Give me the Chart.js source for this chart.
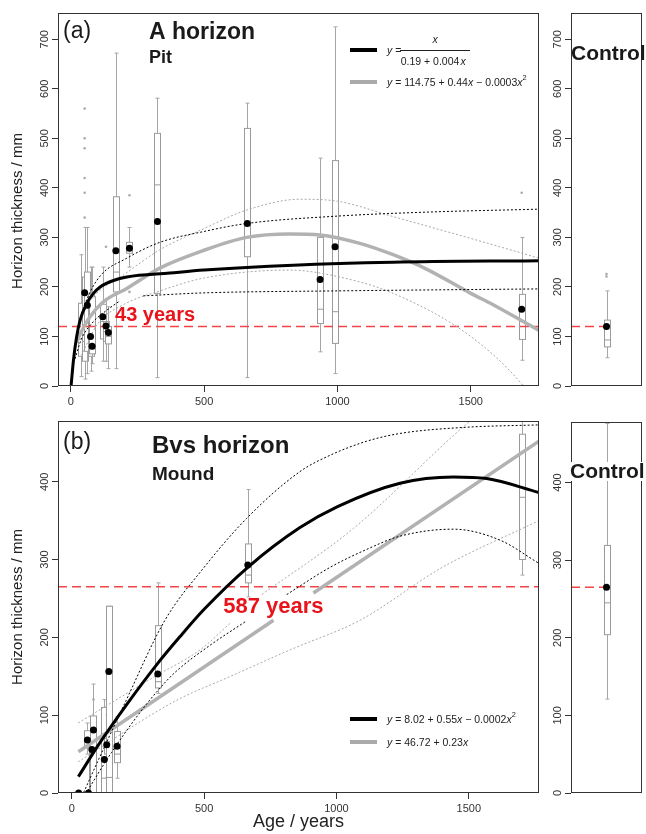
<!DOCTYPE html>
<html>
<head>
<meta charset="utf-8">
<script src="https://cdn.jsdelivr.net/npm/chart.js@4.4.0/dist/chart.umd.min.js"></script>
<style>
  body { margin: 0; background: #fff; width: 646px; height: 834px; position: relative; overflow: hidden; }
  .pane { position: absolute; }
</style>
</head>
<body>
<div class="pane" style="left:0;top:0;width:545px;height:410px"><canvas id="aMain"></canvas></div>
<div class="pane" style="left:540px;top:0;width:106px;height:410px"><canvas id="aCtrl"></canvas></div>
<div class="pane" style="left:0;top:405px;width:545px;height:429px"><canvas id="bMain"></canvas></div>
<div class="pane" style="left:540px;top:405px;width:106px;height:429px"><canvas id="bCtrl"></canvas></div>
<script>
// tick labels
const xTicks  = [0, 500, 1000, 1500];
const yTicksA = [0, 100, 200, 300, 400, 500, 600, 700];
const yTicksB = [0, 100, 200, 300, 400];

// ---------- panel (a): A horizon, pit ----------
const boxAgeA = [37, 52, 62, 74, 80, 120, 132, 141, 169, 220, 325, 662, 935, 991, 1691];
const boxLoA  = [19, 14, 25, 30, 45, 50, 50, 35, 35, 240, 17, 17, 69, 25, 52];
const boxQ1A  = [60, 50, 70, 60, 65, 95, 90, 85, 190, 268, 187, 261, 126, 86, 94];
const boxMedA = [95, 90, 120, 85, 75, 130, 110, 100, 230, 280, 406, 330, 155, 150, 130];
const boxQ3A  = [167, 220, 230, 185, 180, 165, 130, 120, 382, 290, 510, 520, 300, 455, 185];
const boxHiA  = [265, 320, 320, 240, 240, 240, 175, 160, 672, 320, 581, 571, 460, 725, 300];
const meanA   = [null, 188, 163, 100, 80, 140, 121, 108, 273, 278, 332, 328, 215, 281, 155];
const outAgeA = [52, 52, 52, 52, 52, 52, 132, 220, 220, 1691];
const outValA = [340, 390, 420, 480, 500, 560, 281, 190, 385, 390];

// fitted curves (null = hidden under the label)
const ageBlkA   = [1, 10, 22, 35, 60, 85, 110, 160, 210, 372, 500, 834, 1209, 1756];
const blkA      = [0, 52, 100, 133, 167, 187, 200, 213, 220, 228, 234, 244, 250, 253];
const ageBlkHiA = [5, 15, 30, 45, 60, 110, 210, 334, 500, 659, 1000, 1334, 1756];
const blkHiA    = [20, 70, 120, 150, 175, 222, 258, 290, 312, 328, 343, 351, 357];
const ageBlkLoA = [16, 40, 85, 135, 179, 225, 272, 500, 1000, 1756];
const blkLoA    = [55, 95, 130, 153, 170, null, 182, 188, 192, 196];
const ageGryA   = [22, 35, 72, 122, 210, 334, 500, 659, 821, 934, 1084, 1209, 1334, 1500, 1584, 1756];
const gryA      = [88, 105, 140, 170, 197, 238, 274, 300, 307, 305, 288, 265, 236, 187, 164, 112];
const ageGryHiA = [20, 50, 85, 200, 334, 500, 659, 859, 1000, 1209, 1584, 1756];
const gryHiA    = [100, 150, 180, 225, 275, 318, 355, 377, 373, 342, 285, 258];
const ageGryLoA = [40, 100, 200, 334, 500, 821, 1000, 1209, 1500, 1690, 1730];
const gryLoA    = [62, 125, 165, 192, 218, 234, 221, 187, 100, 5, -25];

const ctrlA = { lo: 57, q1: 79, med: 93, q3: 133, hi: 192, mean: 120 };
const ctrlOutA = [221, 226];
const yearsA = 43;

// ---------- panel (b): Bvs horizon, mound ----------
const boxAgeB = [26, 59, 63, 76, 82, 123, 132, 140, 171, 325, 665, 1700];
const boxLoB  = [0, 50, 0, 0, 0, 0, 20, 0, 19, 128, 252, 280];
const boxQ1B  = [0, 58, 0, 0, 0, 0, 50, 0, 39, 135, 270, 300];
const boxMedB = [0, 65, 0, 50, 55, 19, 60, 20, 50, 143, 280, 380];
const boxQ3B  = [0, 80, 0, 60, 99, 110, 70, 240, 79, 215, 320, 461];
const boxHiB  = [0, 90, 0, 70, 140, 120, 100, 240, 98, 270, 390, 500];
const meanB   = [0, 68, 0, 56, 81, 43, 62, 156, 60, 153, 293, null];
const outAgeB = [82];
const outValB = [120];

const ageBlkB   = [25, 107, 208, 321, 409, 500, 665, 862, 1004, 1240, 1441, 1567, 1765];
const blkB      = [21, 65, 114, 165, 201, 236, 290, 341, 368, 398, 406, 404, 386];
const ageBlkHiB = [20, 44, 100, 200, 352, 500, 661, 862, 976, 1114, 1240, 1492, 1765];
const blkHiB    = [-18, 0, 42, 115, 222, 290, 353, 413, 434, 452, 462, 470, 473];
const ageBlkLoB = [30, 55, 150, 250, 321, 390, 523, 655, 730, 812, 976, 1114, 1240, 1441, 1617, 1765];
const blkLoB    = [-15, 0, 52, 100, 130, 155, 190, 220, null, 255, 290, 313, 330, 339, 325, 295];
const ageGryB   = [25, 762, 840, 913, 1765];
const gryB      = [53, 222, null, 257, 452];
const ageGryHiB = [24, 315, 485, 598, 660, 718, 1064, 1505, 1560];
const gryHiB    = [90, 150, 184, 218, null, 255, 340, 478, 492];
const ageGryLoB = [24, 390, 600, 825, 1089, 1400, 1765];
const gryLoB    = [40, 118, 150, 184, 222, 290, 350];

const ctrlB = { lo: 121, q1: 204, med: 245, q3: 319, hi: 476, mean: 265 };
const yearsB = 587;

// ---------- helpers ----------
const FONT = '"Liberation Sans", Arial, sans-serif';
const pts = (xs, ys) => xs.map((x, i) => ({ x: x, y: ys[i] }));

function curve(xs, ys, color, width, dash) {
  return {
    type: 'line', data: pts(xs, ys), borderColor: color, borderWidth: width,
    borderDash: dash || [], pointRadius: 0, fill: false,
    cubicInterpolationMode: 'monotone', spanGaps: false
  };
}
function dots(xs, ys, color, r) {
  return { type: 'scatter', data: pts(xs, ys), backgroundColor: color, borderWidth: 0, pointRadius: r };
}

function boxPlugin(b) {
  return {
    id: 'boxes',
    beforeDatasetsDraw(chart) {
      const { ctx, chartArea: a, scales: { x, y } } = chart;
      ctx.save();
      ctx.beginPath(); ctx.rect(a.left, a.top, a.width, a.height); ctx.clip();
      ctx.lineWidth = 1;
      b.age.forEach((age, i) => {
        const px = Math.round(x.getPixelForValue(age)) + 0.5;
        const lo = y.getPixelForValue(b.lo[i]), q1 = y.getPixelForValue(b.q1[i]);
        const md = y.getPixelForValue(b.med[i]), q3 = y.getPixelForValue(b.q3[i]);
        const hi = y.getPixelForValue(b.hi[i]);
        ctx.strokeStyle = '#a6a6a6';
        ctx.beginPath();
        ctx.moveTo(px, lo); ctx.lineTo(px, q1);
        ctx.moveTo(px, q3); ctx.lineTo(px, hi);
        ctx.moveTo(px - 2, lo); ctx.lineTo(px + 2, lo);
        ctx.moveTo(px - 2, hi); ctx.lineTo(px + 2, hi);
        ctx.stroke();
        ctx.fillStyle = '#fff';
        ctx.fillRect(px - 3, q3, 6, q1 - q3);
        ctx.strokeStyle = '#9a9a9a';
        ctx.strokeRect(px - 3, q3, 6, q1 - q3);
        ctx.beginPath(); ctx.moveTo(px - 3, md); ctx.lineTo(px + 3, md); ctx.stroke();
      });
      ctx.restore();
    }
  };
}

const frame = {
  id: 'frame',
  afterDatasetsDraw(chart) {
    const { ctx, chartArea: a } = chart;
    ctx.save();
    ctx.strokeStyle = '#333'; ctx.lineWidth = 1;
    ctx.strokeRect(Math.round(a.left) + 0.5, Math.round(a.top) + 0.5, Math.round(a.width) - 1, Math.round(a.height) - 1);
    ctx.restore();
  }
};

// R-style tick labels on the y axis, written upwards
const yLabels = {
  id: 'yLabels',
  afterDraw(chart) {
    const { ctx, chartArea: a, scales: { y } } = chart;
    ctx.save();
    ctx.font = '11px ' + FONT; ctx.fillStyle = '#333';
    ctx.textAlign = 'center'; ctx.textBaseline = 'middle';
    y.ticks.forEach(t => {
      ctx.save();
      ctx.translate(a.left - 14.5, y.getPixelForValue(t.value));
      ctx.rotate(-Math.PI / 2);
      ctx.fillText(String(t.value), 0, 1);
      ctx.restore();
    });
    ctx.restore();
  }
};

// text with italic / superscript pieces
function rich(ctx, x, y, parts, size) {
  let cx = x;
  parts.forEach(([t, s]) => {
    const fs = s === 's' ? size * 0.7 : size;
    ctx.font = (s === 'i' ? 'italic ' : '') + fs + 'px ' + FONT;
    ctx.fillText(t, cx, s === 's' ? y - size * 0.45 : y);
    cx += ctx.measureText(t).width;
  });
  return cx;
}
function swatch(ctx, x, y, color) {
  ctx.strokeStyle = color; ctx.lineWidth = 4; ctx.setLineDash([]);
  ctx.beginPath(); ctx.moveTo(x, y); ctx.lineTo(x + 27, y); ctx.stroke();
}
function bold(ctx, text, x, y, size, color) {
  ctx.font = 'bold ' + size + 'px ' + FONT; ctx.fillStyle = color || '#1a1a1a';
  ctx.fillText(text, x, y);
}
const setTicks = vals => scale => { scale.ticks = vals.map(v => ({ value: v })); };

function scalesFor(opt) {
  return {
    x: {
      type: 'linear', min: opt.xMin, max: opt.xMax, display: opt.xShow,
      afterFit: s => { s.height = opt.xHeight; },
      afterBuildTicks: setTicks(xTicks),
      ticks: { color: '#333', font: { size: 11, family: FONT }, padding: 3, maxRotation: 0, autoSkip: false,
               callback: v => String(v) },
      grid: { drawOnChartArea: false, drawTicks: true, tickLength: 6, color: '#333' },
      border: { display: false },
      title: { display: !!opt.xTitle, text: opt.xTitle, color: '#222', font: { size: 18, family: FONT }, padding: { top: 0, bottom: 1 } }
    },
    y: {
      type: 'linear', min: 0, max: opt.yMax,
      afterFit: s => { s.width = opt.yWidth; },
      afterBuildTicks: setTicks(opt.yTicks),
      ticks: { display: false },
      grid: { drawOnChartArea: false, drawTicks: true, tickLength: 6, color: '#333' },
      border: { display: false },
      title: { display: !!opt.yTitle, text: opt.yTitle, color: '#222', font: { size: 15, family: FONT }, padding: { top: 9, bottom: 0 } }
    }
  };
}

function build(id, datasets, plugins, opt) {
  return new Chart(document.getElementById(id), {
    type: 'line',
    data: { datasets: datasets },
    options: {
      responsive: true, maintainAspectRatio: false, animation: false, events: [],
      layout: { padding: opt.pad },
      plugins: { legend: { display: false }, tooltip: { enabled: false } },
      scales: scalesFor(opt)
    },
    plugins: plugins
  });
}

const BLACK = '#000', GREY = '#b2b2b2', THIN_GREY = '#a8a8a8', RED = '#f24545', RED_TXT = '#e8141c';
const X_A = [-48, 1756], X_B = [-52, 1765];

// ---------- panel (a) main ----------
build('aMain', [
  dots(boxAgeA, meanA, '#000', 3.5),
  dots(outAgeA, outValA, '#aaa', 1.3),
  curve(ageBlkA, blkA, BLACK, 3),
  curve(ageBlkHiA, blkHiA, BLACK, 1, [2, 2]),
  curve(ageBlkLoA, blkLoA, BLACK, 1, [2, 2]),
  curve(ageGryA, gryA, GREY, 3.5),
  curve(ageGryHiA, gryHiA, THIN_GREY, 1, [2, 2]),
  curve(ageGryLoA, gryLoA, THIN_GREY, 1, [2, 2]),
  curve(X_A, [ctrlA.mean, ctrlA.mean], RED, 1.5, [9, 5])
], [
  boxPlugin({ age: boxAgeA, lo: boxLoA, q1: boxQ1A, med: boxMedA, q3: boxQ3A, hi: boxHiA }),
  frame, yLabels,
  {
    id: 'notesA',
    afterDraw(chart) {
      const { ctx, scales: { x, y } } = chart;
      ctx.save();
      // y title sits a little low in this panel
      ctx.save();
      ctx.translate(18, 211); ctx.rotate(-Math.PI / 2);
      ctx.font = '15px ' + FONT; ctx.fillStyle = '#222';
      ctx.textAlign = 'center'; ctx.textBaseline = 'middle';
      ctx.fillText('Horizon thickness / mm', 0, 0);
      ctx.restore();
      ctx.textBaseline = 'alphabetic'; ctx.textAlign = 'left';
      ctx.font = '23px ' + FONT; ctx.fillStyle = '#1a1a1a';
      ctx.fillText('(a)', 63, 38);
      bold(ctx, 'A horizon', 149, 39, 23);
      bold(ctx, 'Pit', 149, 63, 18);
      bold(ctx, yearsA + ' years', x.getPixelForValue(166), y.getPixelForValue(131), 20, RED_TXT);
      // legend
      swatch(ctx, 350, 50, '#000');
      swatch(ctx, 350, 82, '#aaa');
      ctx.fillStyle = '#222'; ctx.textBaseline = 'middle';
      rich(ctx, 387, 51, [['y', 'i'], [' =', '']], 10.5);
      ctx.fillRect(400, 50, 70, 1);
      ctx.textAlign = 'center';
      ctx.font = 'italic 10.5px ' + FONT; ctx.fillText('x', 435, 40);
      ctx.font = '10.5px ' + FONT; ctx.fillText('0.19 + 0.004', 430, 62);
      ctx.font = 'italic 10.5px ' + FONT; ctx.fillText('x', 463, 62);
      ctx.textAlign = 'left';
      rich(ctx, 387, 83, [['y', 'i'], [' = 114.75 + 0.44', ''], ['x', 'i'], [' \u2212 0.0003', ''], ['x', 'i'], ['2', 's']], 10.5);
      ctx.restore();
    }
  }
], { xMin: X_A[0], xMax: X_A[1], xShow: true, xHeight: 24, yMax: 753, yWidth: 58, yTicks: yTicksA,
     pad: { top: 13, right: 6, left: 0, bottom: 0 } });

// ---------- panel (a) control ----------
build('aCtrl', [
  dots([1], [ctrlA.mean], '#000', 3.5),
  dots([1, 1], ctrlOutA, '#aaa', 1.3),
  curve([0, 1], [ctrlA.mean, ctrlA.mean], RED, 1.5, [9, 5])
], [
  boxPlugin({ age: [1], lo: [ctrlA.lo], q1: [ctrlA.q1], med: [ctrlA.med], q3: [ctrlA.q3], hi: [ctrlA.hi] }),
  frame, yLabels,
  { id: 'ctrlTextA', afterDraw(chart) { const ctx = chart.ctx; ctx.save(); bold(ctx, 'Control', 31, 60, 21); ctx.restore(); } }
], { xMin: 0, xMax: 2, xShow: false, xHeight: 0, yMax: 753, yWidth: 31, yTicks: yTicksA,
     pad: { top: 13, right: 1, left: 0, bottom: 24 } });

// ---------- panel (b) main ----------
build('bMain', [
  dots(boxAgeB, meanB, '#000', 3.5),
  dots(outAgeB, outValB, '#aaa', 1.3),
  curve(ageBlkB, blkB, BLACK, 3),
  curve(ageBlkHiB, blkHiB, BLACK, 1, [2, 2]),
  curve(ageBlkLoB, blkLoB, BLACK, 1, [2, 2]),
  curve(ageGryB, gryB, GREY, 3.5),
  curve(ageGryHiB, gryHiB, THIN_GREY, 1, [2, 2]),
  curve(ageGryLoB, gryLoB, THIN_GREY, 1, [2, 2]),
  curve(X_B, [ctrlB.mean, ctrlB.mean], RED, 1.5, [9, 5])
], [
  boxPlugin({ age: boxAgeB, lo: boxLoB, q1: boxQ1B, med: boxMedB, q3: boxQ3B, hi: boxHiB }),
  frame, yLabels,
  {
    id: 'notesB',
    afterDraw(chart) {
      const { ctx, scales: { x, y } } = chart;
      ctx.save();
      ctx.textBaseline = 'alphabetic'; ctx.textAlign = 'left';
      ctx.font = '23px ' + FONT; ctx.fillStyle = '#1a1a1a';
      ctx.fillText('(b)', 63, 44);
      bold(ctx, 'Bvs horizon', 152, 48, 24);
      bold(ctx, 'Mound', 152, 75, 19);
      bold(ctx, yearsB + ' years', x.getPixelForValue(572), y.getPixelForValue(231), 22, RED_TXT);
      swatch(ctx, 350, 314, '#000');
      swatch(ctx, 350, 337, '#aaa');
      ctx.fillStyle = '#222'; ctx.textBaseline = 'middle';
      rich(ctx, 387, 315, [['y', 'i'], [' = 8.02 + 0.55', ''], ['x', 'i'], [' \u2212 0.0002', ''], ['x', 'i'], ['2', 's']], 10.5);
      rich(ctx, 387, 338, [['y', 'i'], [' = 46.72 + 0.23', ''], ['x', 'i']], 10.5);
      ctx.restore();
    }
  }
], { xMin: X_B[0], xMax: X_B[1], xShow: true, xHeight: 41, xTitle: 'Age / years', yMax: 478, yWidth: 58, yTicks: yTicksB,
     yTitle: 'Horizon thickness / mm', pad: { top: 16, right: 6, left: 0, bottom: 0 } });

// ---------- panel (b) control ----------
build('bCtrl', [
  dots([1], [ctrlB.mean], '#000', 3.5),
  curve([0, 1], [ctrlB.mean, ctrlB.mean], RED, 1.5, [9, 5])
], [
  boxPlugin({ age: [1], lo: [ctrlB.lo], q1: [ctrlB.q1], med: [ctrlB.med], q3: [ctrlB.q3], hi: [ctrlB.hi] }),
  frame, yLabels,
  {
    id: 'ctrlTextB',
    afterDraw(chart) {
      const ctx = chart.ctx;
      ctx.save();
      ctx.font = 'bold 21px ' + FONT;
      ctx.fillStyle = '#fff';
      ctx.fillRect(31, 57, ctx.measureText('Control').width, 19);
      bold(ctx, 'Control', 30, 73, 21);
      ctx.restore();
    }
  }
], { xMin: 0, xMax: 2, xShow: false, xHeight: 0, yMax: 478, yWidth: 31, yTicks: yTicksB,
     pad: { top: 17, right: 2, left: 0, bottom: 41 } });
</script>
</body>
</html>
